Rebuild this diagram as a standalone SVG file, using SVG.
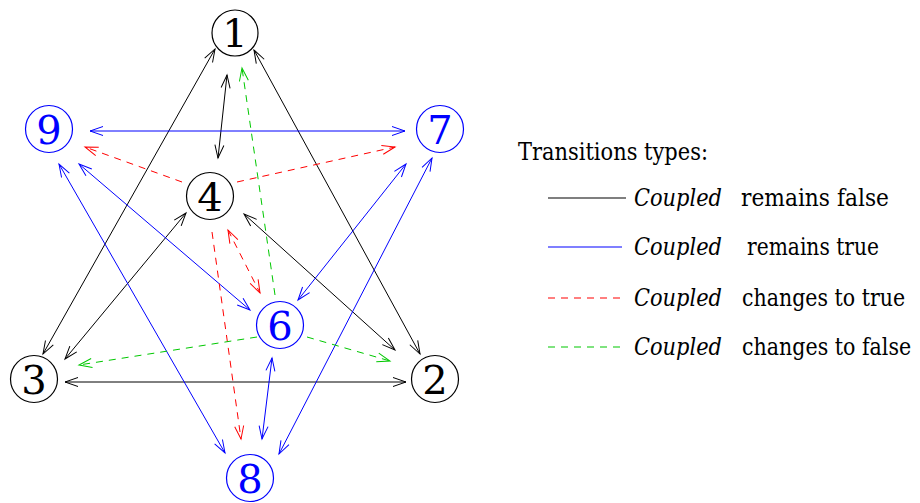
<svg xmlns="http://www.w3.org/2000/svg" width="920" height="503" viewBox="0 0 920 503">
<style>
.n{fill:#fff;stroke-width:1.2}
.k{stroke:#000}
.b{stroke:#0000ff}
text{font-family:'DejaVu Serif','Liberation Serif',serif}
.num{font-size:40px;text-anchor:middle}
.nk{fill:#000}
.nb{fill:#0000ff}
.c{fill:none;stroke-width:1}
.dash{stroke-dasharray:7,6}
.lg{font-size:23.5px;fill:#000}
.it{font-style:italic}
</style>
<defs>
<marker id="ak" markerUnits="userSpaceOnUse" markerWidth="16" markerHeight="12" refX="0" refY="0" viewBox="-14 -6 16 12" orient="auto-start-reverse"><path d="M-13,-4.5 L0,0 L-13,4.5" fill="none" stroke="#000" stroke-width="1"/></marker>
<marker id="ab" markerUnits="userSpaceOnUse" markerWidth="16" markerHeight="12" refX="0" refY="0" viewBox="-14 -6 16 12" orient="auto-start-reverse"><path d="M-13,-4.5 L0,0 L-13,4.5" fill="none" stroke="#0000ff" stroke-width="1"/></marker>
<marker id="ar" markerUnits="userSpaceOnUse" markerWidth="16" markerHeight="12" refX="0" refY="0" viewBox="-14 -6 16 12" orient="auto-start-reverse"><path d="M-13,-4.5 L0,0 L-13,4.5" fill="none" stroke="#ff0000" stroke-width="1"/></marker>
<marker id="ag" markerUnits="userSpaceOnUse" markerWidth="16" markerHeight="12" refX="0" refY="0" viewBox="-14 -6 16 12" orient="auto-start-reverse"><path d="M-13,-4.5 L0,0 L-13,4.5" fill="none" stroke="#00c800" stroke-width="1"/></marker>
</defs>
<g id="connectors">
<g stroke="#000" class="c" marker-start="url(#ak)" marker-end="url(#ak)">
<line x1="215" y1="49" x2="43" y2="354"/>
<line x1="254" y1="50" x2="420" y2="354"/>
<line x1="227" y1="75" x2="218" y2="158"/>
<line x1="186" y1="213" x2="65" y2="359"/>
<line x1="244" y1="214" x2="395" y2="350"/>
<line x1="65" y1="382" x2="406" y2="382"/>
</g>
<g stroke="#0000ff" class="c" marker-start="url(#ab)" marker-end="url(#ab)">
<line x1="90" y1="131" x2="405" y2="131"/>
<line x1="79" y1="164" x2="250" y2="310"/>
<line x1="59" y1="164" x2="225" y2="453"/>
<line x1="406" y1="164" x2="298" y2="300"/>
<line x1="432" y1="158" x2="279" y2="454"/>
<line x1="272" y1="358" x2="262" y2="439"/>
</g>
<g stroke="#ff0000" class="c dash">
<line x1="182" y1="182" x2="85" y2="147" marker-end="url(#ar)"/>
<line x1="237" y1="182" x2="395" y2="147" marker-end="url(#ar)"/>
<line x1="228" y1="230" x2="260" y2="293" marker-start="url(#ar)" marker-end="url(#ar)"/>
<line x1="212" y1="232" x2="241" y2="439" marker-end="url(#ar)"/>
</g>
<g stroke="#00c800" class="c dash" marker-end="url(#ag)">
<line x1="275" y1="295" x2="242" y2="68"/>
<line x1="257" y1="337" x2="79" y2="365"/>
<line x1="307" y1="337" x2="390" y2="361"/>
</g>
</g>
<g id="node1"><circle class="n k" cx="235" cy="33" r="23"/><text class="num nk" x="235" y="47">1</text></g>
<g id="node9"><circle class="n b" cx="49" cy="129" r="23.5"/><text class="num nb" x="49" y="144">9</text></g>
<g id="node7"><circle class="n b" cx="440" cy="129" r="23.5"/><text class="num nb" x="440" y="144">7</text></g>
<g id="node4"><circle class="n k" cx="210" cy="196" r="23.5"/><text class="num nk" x="210" y="211">4</text></g>
<g id="node6"><circle class="n b" cx="280" cy="325" r="23.5"/><text class="num nb" x="280" y="340">6</text></g>
<g id="node3"><circle class="n k" cx="34" cy="379" r="23.5"/><text class="num nk" x="34" y="394">3</text></g>
<g id="node2"><circle class="n k" cx="435" cy="379" r="23.5"/><text class="num nk" x="435" y="394">2</text></g>
<g id="node8"><circle class="n b" cx="250" cy="478" r="23.5"/><text class="num nb" x="250" y="493">8</text></g>
<g id="legend">
<text class="lg" x="518" y="160" textLength="190" lengthAdjust="spacingAndGlyphs">Transitions types:</text>
<line x1="548" y1="198" x2="626" y2="198" stroke="#000" stroke-width="1.2"/>
<text class="lg it" x="634" y="206" textLength="88" lengthAdjust="spacingAndGlyphs">Coupled</text><text class="lg" x="741" y="206" textLength="148" lengthAdjust="spacingAndGlyphs">remains false</text>
<line x1="548" y1="247" x2="622" y2="247" stroke="#0000ff" stroke-width="1.2"/>
<text class="lg it" x="634" y="255" textLength="88" lengthAdjust="spacingAndGlyphs">Coupled</text><text class="lg" x="747" y="255" textLength="132" lengthAdjust="spacingAndGlyphs">remains true</text>
<line x1="548" y1="298" x2="622" y2="298" stroke="#ff0000" stroke-width="1.2" stroke-dasharray="7,6"/>
<text class="lg it" x="634" y="306" textLength="88" lengthAdjust="spacingAndGlyphs">Coupled</text><text class="lg" transform="translate(742,306) scale(0.85,1)" x="0" y="0" textLength="192" lengthAdjust="spacingAndGlyphs">changes to true</text>
<line x1="548" y1="347" x2="622" y2="347" stroke="#00c800" stroke-width="1.2" stroke-dasharray="7,6"/>
<text class="lg it" x="634" y="355" textLength="88" lengthAdjust="spacingAndGlyphs">Coupled</text><text class="lg" transform="translate(742,355) scale(0.85,1)" x="0" y="0" textLength="199" lengthAdjust="spacingAndGlyphs">changes to false</text>
</g>
</svg>
